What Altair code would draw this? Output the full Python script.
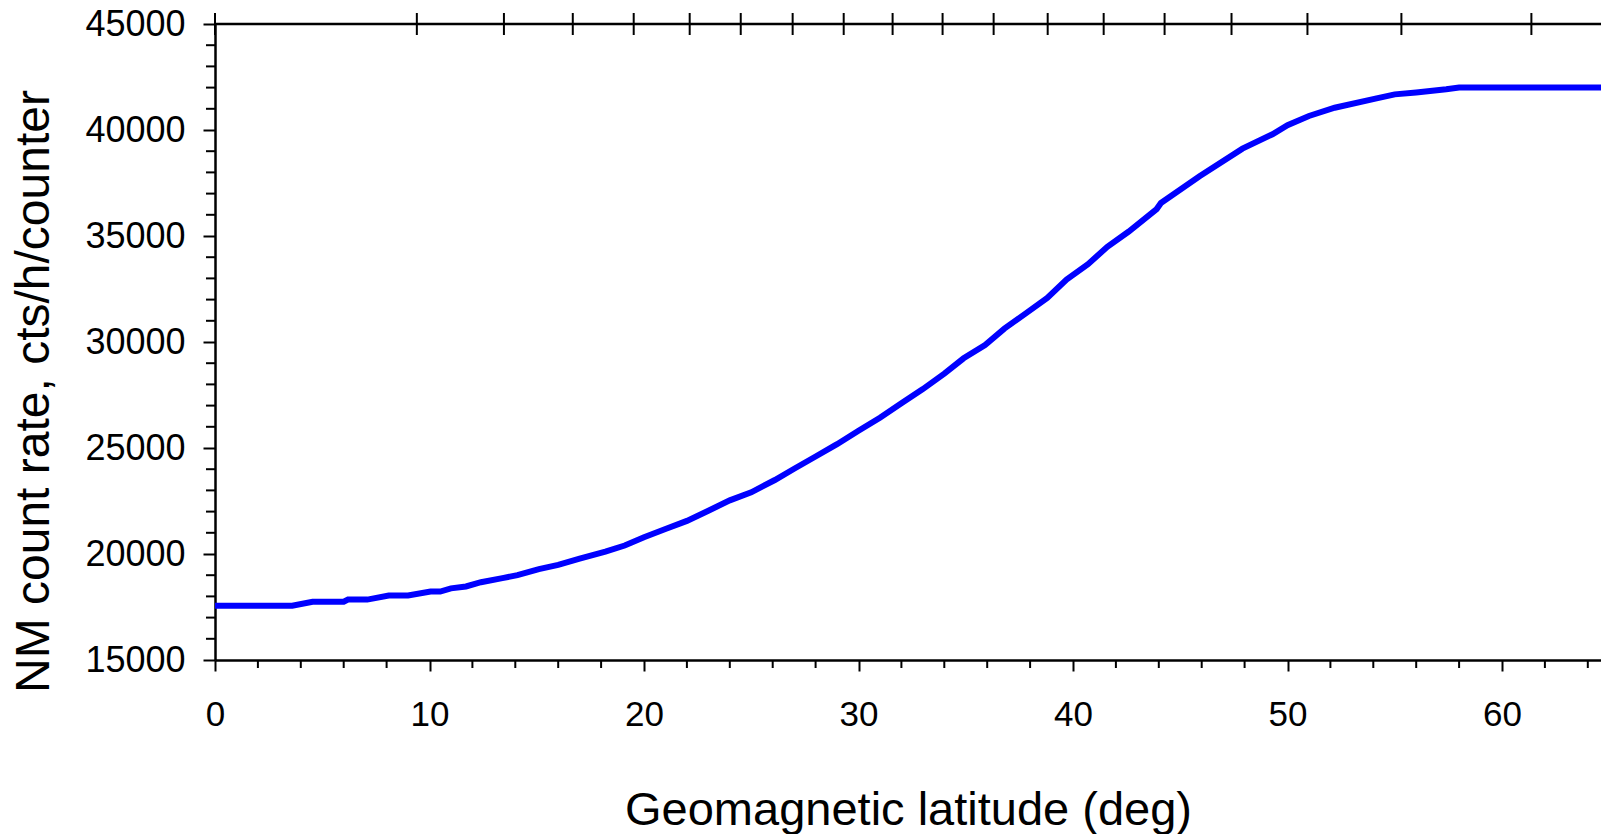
import altair as alt
import pandas as pd

# Curve: geomagnetic latitude (deg) vs NM count rate
lat = [0, 3.6, 4.55, 6.0, 6.2, 7.1, 8.1, 9.0, 10.05, 10.5, 11.0, 11.7, 12.4, 13.4,
       14.1, 15.1, 16.0, 17.0, 18.2, 19.1, 20.0, 21.0, 22.0, 23.0, 24.0, 25.0,
       26.1, 27.0, 28.0, 29.0, 30.0, 31.0, 32.0, 33.0, 34.0, 34.9, 35.9, 36.8,
       37.8, 38.8, 39.7, 40.7, 41.6, 42.6, 43.9, 44.1, 45.9, 47.9, 49.3, 50.0,
       51.0, 52.2, 54.1, 55.0, 56.0, 57.4, 58.0, 65.0]
rate = [17560, 17560, 17750, 17750, 17850, 17850, 18040, 18040, 18230, 18230,
        18380, 18470, 18670, 18860, 19000, 19290, 19490, 19780, 20110, 20400,
        20790, 21180, 21560, 22040, 22530, 22910, 23490, 24020, 24600, 25180,
        25810, 26430, 27110, 27780, 28510, 29230, 29860, 30630, 31350, 32080,
        32950, 33670, 34490, 35210, 36270, 36560, 37820, 39120, 39800, 40230,
        40660, 41050, 41480, 41680, 41770, 41920, 42000, 42000]

# Tick values
x_major = [0, 10, 20, 30, 40, 50, 60]
x_minor = [v for v in range(2, 65, 2) if v % 10 != 0]
y_major = [15000, 20000, 25000, 30000, 35000, 40000, 45000]
y_minor = [v for v in range(16000, 45000, 1000) if v % 5000 != 0]
top_ticks = [0, 9.41, 13.47, 16.68, 19.52, 22.13, 24.51, 26.93, 29.31, 31.59,
             33.92, 36.30, 38.82, 41.43, 44.27, 47.39, 50.93, 55.31, 61.37]

W, H = 1386, 636
FONT = "Liberation Sans"

df = pd.DataFrame({"lat": lat, "rate": rate})
xs = alt.Scale(domain=[0, W / 21.45], nice=False, zero=False)
ys = alt.Scale(domain=[15000, 45000], nice=False, zero=False)

line = alt.Chart(df).mark_line(color="#0000ff", strokeWidth=6, clip=True).encode(
    x=alt.X("lat:Q", scale=xs, axis=alt.Axis(
        values=x_major, format="d", title="Geomagnetic latitude (deg)",
        tickSize=11, tickWidth=2, tickColor="black", domainColor="black",
        domainWidth=2.5, labelFontSize=35, labelFont=FONT, labelColor="black",
        labelPadding=26, labelFlush=False,
        titleFontSize=47, titleFont=FONT, titleFontWeight="normal", titleColor="black",
        titleX=693, titleY=164, titleBaseline="alphabetic", titleAlign="center",
        grid=False)),
    y=alt.Y("rate:Q", scale=ys, axis=alt.Axis(
        values=y_major, format="d", title="NM count rate, cts/h/counter",
        tickSize=12, tickWidth=2, tickColor="black", domainColor="black",
        domainWidth=2.5, labelFontSize=36, labelFont=FONT, labelColor="black",
        labelPadding=18, labelFlush=False,
        titleFontSize=48, titleFont=FONT, titleFontWeight="normal", titleColor="black",
        titleX=-167, titleY=367, titleBaseline="alphabetic", titleAlign="center",
        titleAngle=270, grid=False)),
)

xminor = alt.Chart(pd.DataFrame({"v": x_minor})).mark_rule(
    color="black", strokeWidth=2).encode(
    x=alt.X("v:Q", scale=xs), y=alt.value(H), y2=alt.value(H + 8))

yminor = alt.Chart(pd.DataFrame({"v": y_minor})).mark_rule(
    color="black", strokeWidth=2).encode(
    y=alt.Y("v:Q", scale=ys), x=alt.value(0), x2=alt.value(-9))

topline = alt.Chart(pd.DataFrame({"v": [0]})).mark_rule(
    color="black", strokeWidth=2.5).encode(
    x=alt.value(0), x2=alt.value(W), y=alt.value(0))

topticks = alt.Chart(pd.DataFrame({"t": top_ticks})).mark_rule(
    color="black", strokeWidth=2).encode(
    x=alt.X("t:Q", scale=xs), y=alt.value(-11), y2=alt.value(11))

chart = alt.layer(line, xminor, yminor, topline, topticks).properties(
    width=W, height=H,
    autosize=alt.AutoSizeParams(type="none"),
    padding={"left": 207, "top": 16, "right": 0, "bottom": 182},
).configure_view(stroke=None).configure(background="white")

chart.save("out.html", embed_options={"renderer": "svg", "actions": False})
